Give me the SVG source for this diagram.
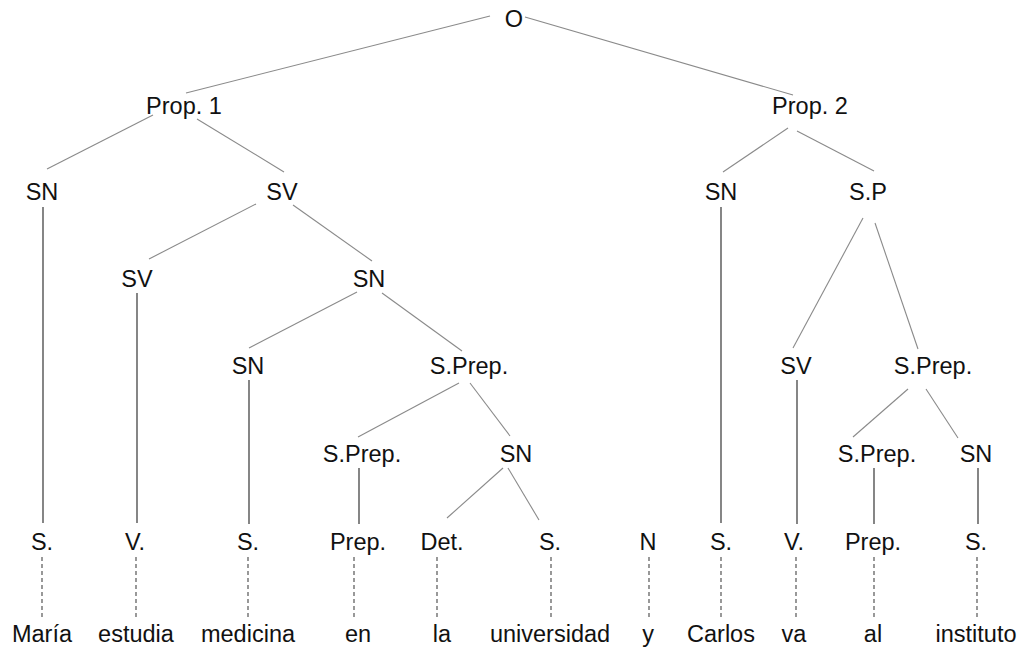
<svg xmlns="http://www.w3.org/2000/svg" width="1021" height="647" viewBox="0 0 1021 647">
<style>
text{font-family:"Liberation Sans",Arial,sans-serif;font-size:23.5px;fill:#111;text-anchor:middle}
.e{stroke:#8a8a8a;stroke-width:1.1;fill:none}
.v{stroke:#444;stroke-width:1.3;fill:none}
.d{stroke:#555;stroke-width:1.2;stroke-dasharray:4 3;fill:none}
</style>
<rect width="1021" height="647" fill="#fff"/>
<g id="connectors">
<line class="e" x1="490" y1="16" x2="186" y2="93"/>
<line class="e" x1="525" y1="17" x2="793" y2="95"/>
<line class="e" x1="153" y1="115" x2="47" y2="169"/>
<line class="e" x1="197" y1="119" x2="284" y2="172"/>
<line class="e" x1="256" y1="204" x2="149" y2="259"/>
<line class="e" x1="293" y1="205" x2="372" y2="261"/>
<line class="e" x1="357" y1="292" x2="249" y2="348"/>
<line class="e" x1="382" y1="293" x2="462" y2="351"/>
<line class="e" x1="459" y1="383" x2="358" y2="437"/>
<line class="e" x1="470" y1="383" x2="510" y2="436"/>
<line class="e" x1="503" y1="468" x2="447" y2="518"/>
<line class="e" x1="508" y1="468" x2="539" y2="520"/>
<line class="e" x1="788" y1="128" x2="723" y2="172"/>
<line class="e" x1="797" y1="131" x2="874" y2="171"/>
<line class="e" x1="863" y1="218" x2="793" y2="348"/>
<line class="e" x1="875" y1="223" x2="918" y2="349"/>
<line class="e" x1="908" y1="389" x2="853" y2="437"/>
<line class="e" x1="926" y1="389" x2="958" y2="438"/>
<line class="v" x1="43" y1="207" x2="43" y2="523"/>
<line class="v" x1="137" y1="293" x2="137" y2="523"/>
<line class="v" x1="249" y1="380" x2="249" y2="524"/>
<line class="v" x1="359" y1="468" x2="359" y2="524"/>
<line class="v" x1="721" y1="207" x2="721" y2="523"/>
<line class="v" x1="797" y1="380" x2="797" y2="524"/>
<line class="v" x1="874" y1="468" x2="874" y2="524"/>
<line class="v" x1="978" y1="468" x2="978" y2="524"/>
<line class="d" x1="42" y1="557" x2="42" y2="618"/>
<line class="d" x1="136" y1="557" x2="136" y2="618"/>
<line class="d" x1="248" y1="557" x2="248" y2="618"/>
<line class="d" x1="354" y1="557" x2="354" y2="618"/>
<line class="d" x1="437" y1="557" x2="437" y2="618"/>
<line class="d" x1="551" y1="557" x2="551" y2="618"/>
<line class="d" x1="649" y1="557" x2="649" y2="618"/>
<line class="d" x1="721" y1="557" x2="721" y2="618"/>
<line class="d" x1="796" y1="557" x2="796" y2="618"/>
<line class="d" x1="874" y1="557" x2="874" y2="618"/>
<line class="d" x1="977" y1="557" x2="977" y2="618"/>
</g>
<g id="n-O"><text x="514" y="27">O</text></g>
<g id="n-prop1"><text x="184" y="114">Prop. 1</text></g>
<g id="n-prop2"><text x="810" y="114">Prop. 2</text></g>
<g id="n-sn1"><text x="42" y="200">SN</text></g>
<g id="n-sv1"><text x="282" y="200">SV</text></g>
<g id="n-sn2"><text x="721" y="200">SN</text></g>
<g id="n-sp"><text x="868" y="200">S.P</text></g>
<g id="n-sv2"><text x="137" y="287">SV</text></g>
<g id="n-sn3"><text x="369" y="287">SN</text></g>
<g id="n-sn4"><text x="248" y="374">SN</text></g>
<g id="n-sprep1"><text x="469" y="374">S.Prep.</text></g>
<g id="n-sv3"><text x="796" y="374">SV</text></g>
<g id="n-sprep2"><text x="933" y="374">S.Prep.</text></g>
<g id="n-sprep3"><text x="362" y="462">S.Prep.</text></g>
<g id="n-sn5"><text x="516" y="462">SN</text></g>
<g id="n-sprep4"><text x="877" y="462">S.Prep.</text></g>
<g id="n-sn6"><text x="976" y="462">SN</text></g>
<g id="n-t1"><text x="42" y="550">S.</text></g>
<g id="n-t2"><text x="135" y="550">V.</text></g>
<g id="n-t3"><text x="248" y="550">S.</text></g>
<g id="n-t4"><text x="358" y="550">Prep.</text></g>
<g id="n-t5"><text x="442" y="550">Det.</text></g>
<g id="n-t6"><text x="550" y="550">S.</text></g>
<g id="n-t7"><text x="648" y="550">N</text></g>
<g id="n-t8"><text x="721" y="550">S.</text></g>
<g id="n-t9"><text x="794" y="550">V.</text></g>
<g id="n-t10"><text x="873" y="550">Prep.</text></g>
<g id="n-t11"><text x="976" y="550">S.</text></g>
<g id="n-w1"><text x="42" y="642">María</text></g>
<g id="n-w2"><text x="136" y="642">estudia</text></g>
<g id="n-w3"><text x="248" y="642">medicina</text></g>
<g id="n-w4"><text x="358" y="642">en</text></g>
<g id="n-w5"><text x="442" y="642">la</text></g>
<g id="n-w6"><text x="550" y="642">universidad</text></g>
<g id="n-w7"><text x="648" y="642">y</text></g>
<g id="n-w8"><text x="721" y="642">Carlos</text></g>
<g id="n-w9"><text x="794" y="642">va</text></g>
<g id="n-w10"><text x="873" y="642">al</text></g>
<g id="n-w11"><text x="976" y="642">instituto</text></g>
</svg>
